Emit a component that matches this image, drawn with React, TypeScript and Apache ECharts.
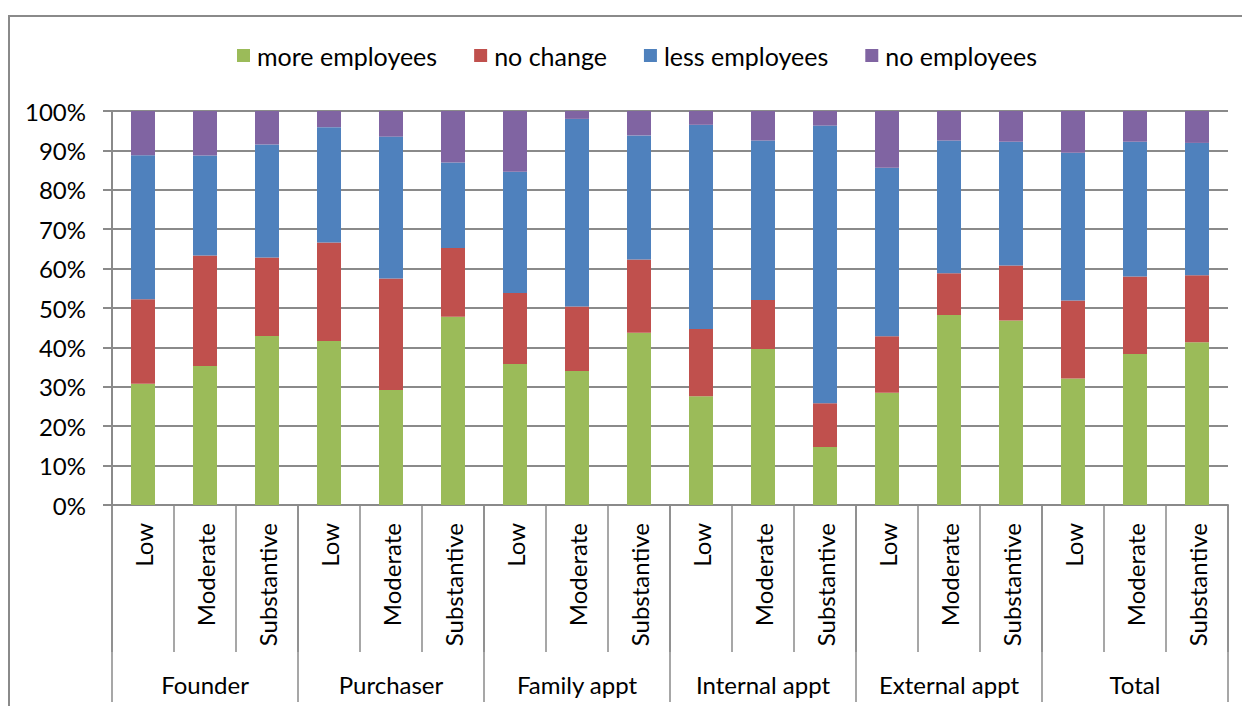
import React, { useEffect, useRef } from "react";
import * as echarts from "echarts";

const groups = ["Founder", "Purchaser", "Family appt", "Internal appt", "External appt", "Total"];
const levels = ["Low", "Moderate", "Substantive"];
const seriesNames = ["more employees", "no change", "less employees", "no employees"];
const moreEmployees = [30.8, 35.3, 42.9, 41.6, 29.2, 47.8, 35.8, 34.0, 43.7, 27.6, 39.6, 14.7, 28.5, 48.2, 46.8, 32.1, 38.3, 41.3];
const noChange = [21.4, 28.0, 19.9, 25.0, 28.3, 17.4, 18.0, 16.4, 18.6, 17.1, 12.4, 11.1, 14.3, 10.6, 14.0, 19.8, 19.7, 17.0];
const lessEmployees = [36.6, 25.4, 28.7, 29.3, 36.0, 21.7, 30.8, 47.6, 31.5, 51.8, 40.5, 70.5, 42.8, 33.7, 31.4, 37.5, 34.2, 33.6];
const noEmployees = [11.2, 11.3, 8.5, 4.1, 6.5, 13.1, 15.4, 2.0, 6.2, 3.5, 7.5, 3.7, 14.4, 7.5, 7.8, 10.6, 7.8, 8.1];
const colors = ["#9BBB59", "#C0504D", "#4F81BD", "#8064A2"];

const FONT = "Lato";
const FS = 24;
const GRAY = "#8a8a8a";

export default function App() {
  const ref = useRef<HTMLDivElement>(null);
  useEffect(() => {
    const chart = echarts.init(ref.current!, undefined, { renderer: "svg" });
    const categories: string[] = [];
    groups.forEach(() => levels.forEach((l) => categories.push(l)));
    const values = [moreEmployees, noChange, lessEmployees, noEmployees];
    chart.setOption({
      animation: false,
      color: colors,
      textStyle: { fontFamily: FONT },
      graphic: [
        {
          type: "rect",
          shape: { x: 9, y: 16, width: 1400, height: 900 },
          style: { fill: "none", stroke: GRAY, lineWidth: 2 },
          silent: true,
        },
      ],
      legend: {
        left: 232,
        top: 38,
        itemWidth: 13,
        itemHeight: 13,
        itemGap: 37,
        icon: "rect",
        data: seriesNames,
        textStyle: { fontFamily: FONT, fontSize: 25, color: "#000", padding: [0, 0, 0, 2] },
      },
      grid: { left: 112, right: 14, top: 111, bottom: 201, containLabel: false },
      xAxis: [
        {
          type: "category",
          data: categories,
          position: "bottom",
          axisLine: { show: true, lineStyle: { color: GRAY, width: 2 } },
          axisTick: { show: true, interval: 0, length: 147, lineStyle: { color: GRAY, width: 1.5 } },
          axisLabel: {
            interval: 0,
            rotate: 90,
            margin: 18,
            fontFamily: FONT,
            fontSize: FS,
            color: "#000",
          },
        },
        {
          type: "category",
          data: groups,
          position: "bottom",
          axisLine: { show: false },
          axisTick: { show: true, interval: 0, length: 197, lineStyle: { color: GRAY, width: 1.5 } },
          axisLabel: {
            interval: 0,
            margin: 167,
            fontFamily: FONT,
            fontSize: FS,
            color: "#000",
          },
        },
      ],
      yAxis: {
        type: "value",
        min: 0,
        max: 100,
        interval: 10,
        axisLine: { show: true, lineStyle: { color: GRAY, width: 2 } },
        axisTick: { show: true, length: 9, lineStyle: { color: GRAY, width: 2 } },
        splitLine: { show: true, lineStyle: { color: GRAY, width: 2 } },
        axisLabel: {
          formatter: "{value}%",
          margin: 26,
          fontFamily: FONT,
          fontSize: FS,
          color: "#000",
        },
      },
      series: seriesNames.map((name, i) => ({
        name,
        type: "bar",
        stack: "total",
        xAxisIndex: 0,
        barWidth: 24,
        data: values[i],
        itemStyle: { color: colors[i] },
      })),
    });
    return () => chart.dispose();
  }, []);
  return (
    <div
      ref={ref}
      style={{ position: "absolute", left: 0, top: 0, width: 1242, height: 706, background: "#fff" }}
    />
  );
}
